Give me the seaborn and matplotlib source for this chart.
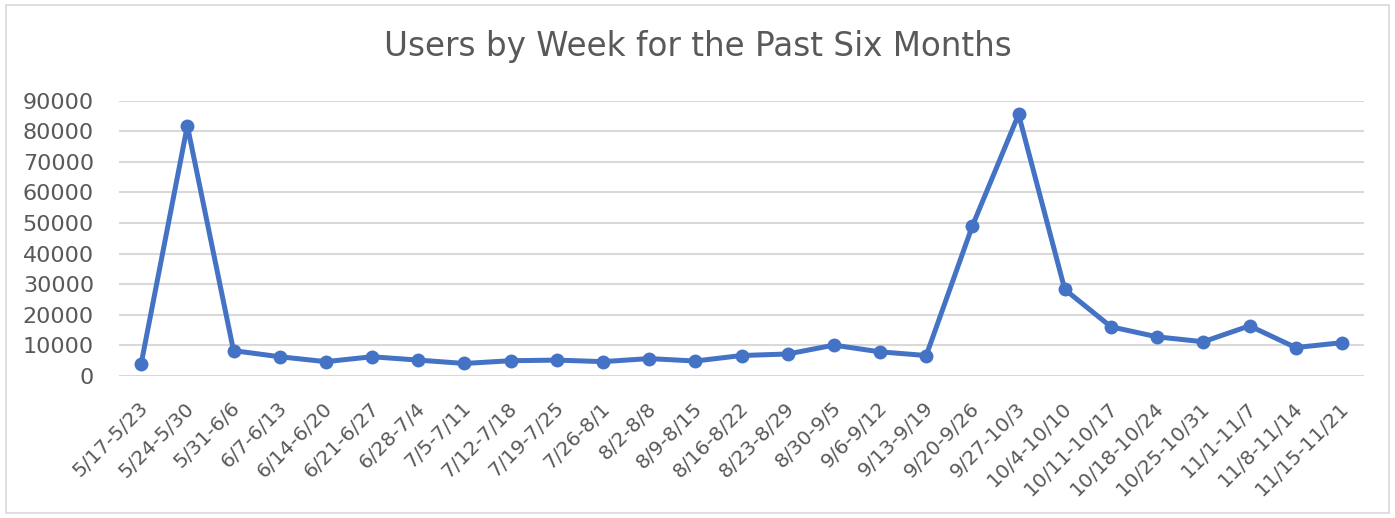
import numpy as np
import pandas as pd
import matplotlib
matplotlib.use("Agg")
import matplotlib.pyplot as plt
import matplotlib.transforms as mtransforms
from matplotlib.patches import Rectangle
import seaborn as sns

# Weekly ranges and user counts
weeks = ["5/17-5/23", "5/24-5/30", "5/31-6/6", "6/7-6/13", "6/14-6/20", "6/21-6/27",
         "6/28-7/4", "7/5-7/11", "7/12-7/18", "7/19-7/25", "7/26-8/1", "8/2-8/8",
         "8/9-8/15", "8/16-8/22", "8/23-8/29", "8/30-9/5", "9/6-9/12", "9/13-9/19",
         "9/20-9/26", "9/27-10/3", "10/4-10/10", "10/11-10/17", "10/18-10/24",
         "10/25-10/31", "11/1-11/7", "11/8-11/14", "11/15-11/21"]
users = [4000, 81800, 8300, 6300, 4700, 6300, 5200, 4100, 5000, 5200, 4700, 5700,
         4900, 6700, 7200, 10100, 7900, 6700, 49100, 85500, 28300, 16100, 12800,
         11200, 16400, 9300, 10900]
y_ticks = [0, 10000, 20000, 30000, 40000, 50000, 60000, 70000, 80000, 90000]

df = pd.DataFrame({"week": weeks, "users": users})
df["pos"] = np.arange(len(df))

sns.set_style("white")
plt.rcParams["font.family"] = ["DejaVu Sans"]
text_gray = "#595959"
line_blue = "#4472C4"

fig = plt.figure(figsize=(13.95, 5.18), dpi=100)
ax = fig.add_axes([0.0853, 0.2741, 0.8925, 0.5315])

sns.lineplot(data=df, x="pos", y="users", ax=ax, color=line_blue, linewidth=3.6,
             marker="o", markersize=10, markeredgewidth=0, sort=False, zorder=3)

ax.set_xlim(-0.48, len(weeks) - 1 + 0.48)
ax.set_ylim(0, 90000)
ax.set_yticks(y_ticks)
ax.set_yticklabels([str(v) for v in y_ticks], fontsize=16, color=text_gray)
ax.set_xticks(df["pos"])
ax.set_xticklabels(weeks, rotation=45, ha="right", va="center",
                   rotation_mode="anchor", fontsize=14.5, color=text_gray)
ax.tick_params(axis="y", length=0, pad=18)
ax.tick_params(axis="x", length=0, pad=21)

# nudge rotated labels so their ends sit under the points like the original
offset = mtransforms.ScaledTranslation(4 / 100, 0, fig.dpi_scale_trans)
for lab in ax.get_xticklabels():
    lab.set_transform(lab.get_transform() + offset)

ax.grid(axis="y", color="#d9d9d9", linewidth=1.5)
ax.grid(axis="x", visible=False)
sns.despine(ax=ax, left=True, bottom=True)
ax.set_xlabel("")
ax.set_ylabel("")

fig.text(0.5, 0.911, "Users by Week for the Past Six Months", ha="center", va="center",
         fontsize=23.5, color=text_gray)

fig.patches.append(Rectangle((0.004, 0.01), 0.992, 0.98, transform=fig.transFigure,
                             fill=False, edgecolor="#d9d9d9", linewidth=1.2))

fig.savefig("out.png", dpi=100)
